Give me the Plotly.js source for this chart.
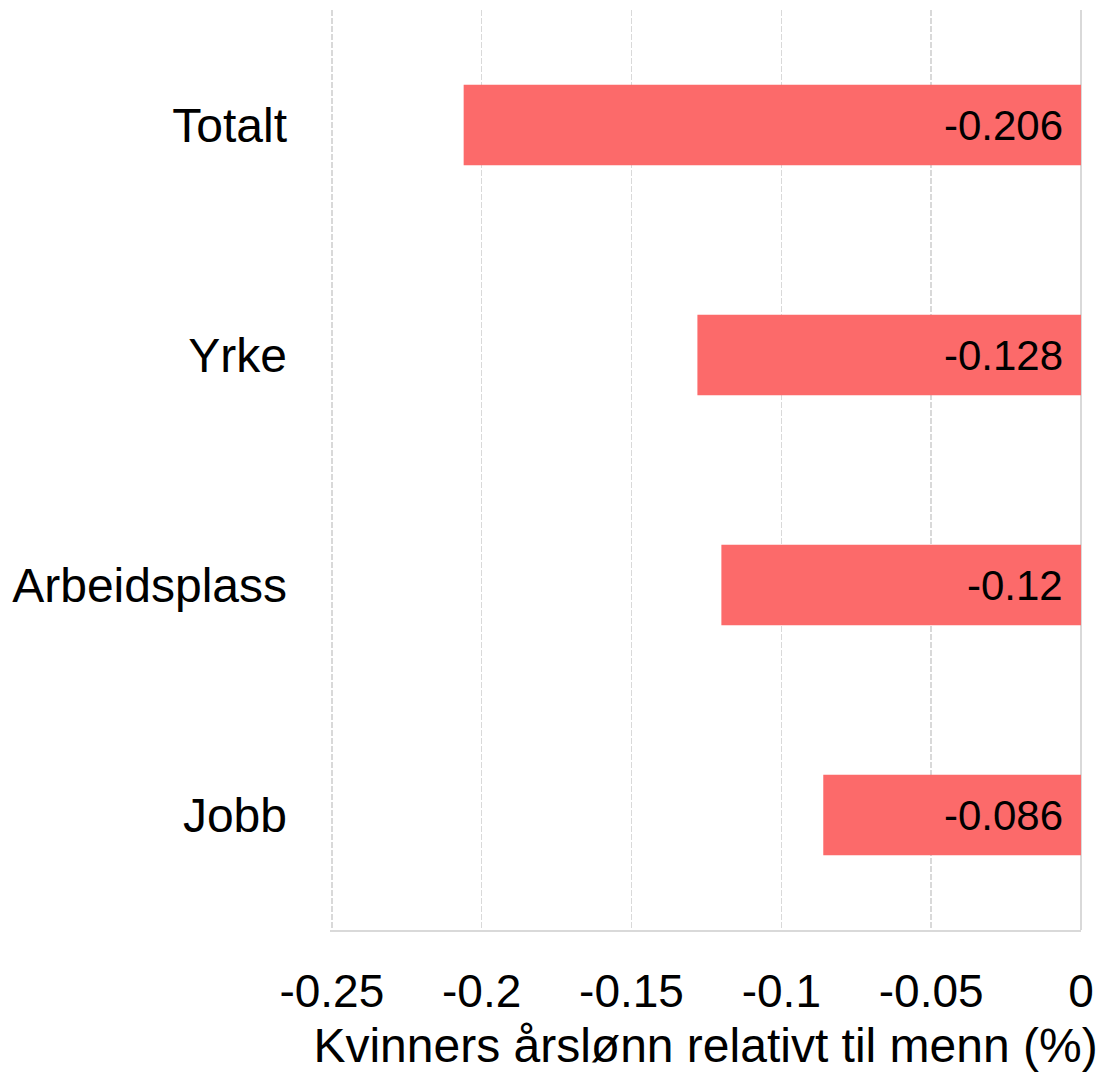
<!DOCTYPE html>
<html>
<head>
<meta charset="utf-8">
<script src="https://cdn.plot.ly/plotly-3.0.1.min.js"></script>
<style>
  html, body { margin: 0; padding: 0; background: #fff; }
  #chart { width: 1104px; height: 1074px; }
</style>
</head>
<body>
<div id="chart"></div>
<script>
const categories = ["Totalt", "Yrke", "Arbeidsplass", "Jobb"];
const gapValues = [-0.206, -0.128, -0.12, -0.086];
const xTickValues = [-0.25, -0.2, -0.15, -0.1, -0.05, 0];
const xTickLabels = ["-0.25", "-0.2", "-0.15", "-0.1", "-0.05", "0"];

const fontFamily = 'Liberation Sans, Arial, sans-serif';

const data = [{
    type: 'bar',
    orientation: 'h',
    y: categories,
    x: gapValues,
    marker: { color: '#FC6A6A' },
    width: 0.35,
    hoverinfo: 'none'
}];

// value labels sit just inside the bar, near zero
const labels = categories.map((c, i) => ({
    x: 0,
    y: c,
    xref: 'x',
    yref: 'y',
    text: String(gapValues[i]),
    showarrow: false,
    xanchor: 'right',
    xshift: -16,
    font: { family: fontFamily, size: 42, color: '#000' }
}));

const layout = {
    width: 1104,
    height: 1074,
    margin: { l: 330, r: 23, t: 10, b: 144 },
    paper_bgcolor: '#fff',
    plot_bgcolor: '#fff',
    showlegend: false,
    font: { family: fontFamily, color: '#000' },
    annotations: labels,
    xaxis: {
        range: [-0.2506, 0],
        tickvals: xTickValues,
        ticktext: xTickLabels,
        tickfont: { size: 46, color: '#000' },
        showgrid: true,
        gridcolor: '#d9d9d9',
        griddash: '6px,2px',
        gridwidth: 1.5,
        zeroline: true,
        zerolinecolor: '#d9d9d9',
        zerolinewidth: 2,
        showline: true,
        linecolor: '#d9d9d9',
        linewidth: 2,
        ticks: '',
        ticklabelstandoff: 20,
        title: { text: 'Kvinners årslønn relativt til menn (%)', font: { size: 48, color: '#000' }, standoff: 12 }
    },
    yaxis: {
        categoryorder: 'array',
        categoryarray: categories.slice().reverse(),
        tickfont: { size: 48, color: '#000' },
        showgrid: false,
        zeroline: false,
        showline: false,
        ticks: '',
        ticklabelstandoff: 42
    }
};

Plotly.newPlot('chart', data, layout, { displayModeBar: false, staticPlot: true });
</script>
</body>
</html>
